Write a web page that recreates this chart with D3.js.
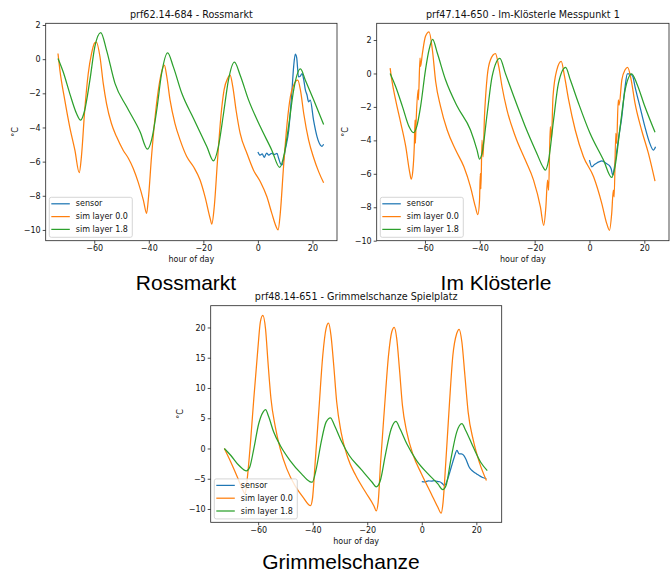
<!DOCTYPE html>
<html><head><meta charset="utf-8">
<script src="https://cdn.jsdelivr.net/npm/d3@7"></script>
<style>html,body{margin:0;padding:0;background:#fff;}svg{display:block;}</style>
</head><body>
<svg id="fig" width="672" height="573"></svg>
<script>
// ---------------- DATA ----------------
const seriesNames = ["sensor", "sim layer 0.0", "sim layer 1.8"];
const xTicks = [-60, -40, -20, 0, 20];
const xTickLabels = ["\u221260", "\u221240", "\u221220", "0", "20"];
const yTicksA = [-10, -8, -6, -4, -2, 0, 2];
const yTickLabelsA = ["\u221210", "\u22128", "\u22126", "\u22124", "\u22122", "0", "2"];
const yTicksC = [-10, -5, 0, 5, 10, 15, 20];
const yTickLabelsC = ["\u221210", "\u22125", "0", "5", "10", "15", "20"];

// Rossmarkt
const rossSensor = [[0,-5.43],[0.8,-5.62],[1.6,-5.55],[2.3,-5.75],[3.2,-5.5],[4.0,-5.62],[5.0,-5.52],[6.0,-5.58],[7.0,-5.52],[7.6,-5.8],[8.2,-6.1],[8.8,-6.2],[9.4,-5.9],[10.0,-5.33],[11.3,-4.16],[12.5,-1.8],[13.1,-0.45],[13.7,0.29],[14.2,0.1],[14.9,-1.04],[15.5,-1.0],[16.2,-0.84],[16.8,-1.2],[17.4,-1.8],[18.0,-2.1],[18.6,-2.5],[19.2,-2.4],[20.4,-3.57],[21.7,-4.55],[22.9,-5.03],[23.5,-5.1],[24.1,-4.98]];
const rossLayer00 = [[-73.3,0.33],[-72.6,-0.64],[-70.8,-2.4],[-69.0,-3.96],[-67.1,-5.33],[-65.5,-6.65],[-64.7,-5.7],[-63.5,-3.0],[-62.2,-0.84],[-61.0,0.33],[-59.8,0.96],[-59.2,1.0],[-57.9,0.14],[-56.7,-1.42],[-55.5,-2.6],[-53.7,-3.77],[-51.8,-4.55],[-49.4,-5.33],[-47.5,-5.8],[-45.7,-6.4],[-43.9,-7.2],[-42.0,-8.25],[-40.8,-9.03],[-40.2,-8.25],[-39.0,-5.7],[-37.7,-3.4],[-36.5,-1.8],[-35.3,-0.74],[-34.3,-0.35],[-33.4,-1.03],[-32.2,-2.4],[-30.4,-3.77],[-28.5,-4.74],[-26.1,-5.7],[-23.6,-6.3],[-21.2,-7.08],[-19.4,-8.05],[-17.5,-9.33],[-16.9,-9.66],[-16.0,-8.64],[-14.8,-5.9],[-13.6,-3.4],[-12.4,-1.8],[-11.1,-1.13],[-10.2,-0.94],[-9.2,-1.62],[-8.0,-2.99],[-6.5,-4.35],[-4.0,-5.52],[-1.6,-6.5],[0.9,-7.18],[3.3,-8.06],[5.1,-9.03],[6.7,-9.81],[7.4,-10.0],[8.2,-9.03],[9.4,-6.3],[10.7,-3.77],[11.9,-2.2],[13.1,-1.52],[14.6,-1.23],[15.6,-1.81],[16.8,-3.18],[18.6,-4.74],[20.5,-5.8],[22.3,-6.6],[24.1,-7.24]];
const rossLayer18 = [[-73.3,0.04],[-71.4,-0.74],[-69.0,-2.0],[-66.5,-3.18],[-65.0,-3.57],[-63.5,-2.99],[-61.6,-1.23],[-59.8,0.72],[-57.6,1.56],[-55.5,0.53],[-52.4,-1.42],[-48.1,-2.79],[-43.2,-4.25],[-40.5,-5.27],[-39.0,-4.74],[-37.1,-2.99],[-35.3,-0.84],[-33.1,0.37],[-31.0,-0.45],[-27.9,-2.0],[-23.6,-3.47],[-18.7,-5.13],[-16.3,-5.95],[-14.5,-5.13],[-12.6,-3.18],[-10.8,-1.23],[-8.6,-0.18],[-6.5,-0.94],[-3.4,-2.4],[0.9,-3.96],[5.1,-5.33],[8.0,-6.34],[9.7,-5.52],[11.4,-3.77],[13.1,-1.81],[15.6,-0.57],[17.4,-1.23],[20.5,-2.4],[24.1,-3.82]];

// Im Klösterle
const klosSensor = [[0,-5.18],[0.85,-5.58],[1.8,-5.45],[2.7,-5.35],[3.6,-5.28],[4.5,-5.22],[5.4,-5.3],[6.3,-5.4],[7.2,-5.5],[7.9,-5.7],[8.5,-6.08],[9.3,-5.38],[10.5,-3.98],[11.8,-2.58],[13.0,-0.78],[13.8,-0.02],[14.8,-0.02],[15.8,-0.18],[16.6,-0.78],[18.4,-1.98],[20.2,-3.18],[22.0,-4.18],[23.3,-4.58],[24.1,-4.38]];
const klosLayer00 = [[-72.7,0.32],[-72.2,-0.28],[-70.7,-1.58],[-68.8,-2.98],[-67.0,-4.38],[-65.6,-5.88],[-65.0,-6.32],[-64.4,-5.78],[-63.9,-4.38],[-63.6,-2.78],[-63.5,-4.18],[-63.2,-2.78],[-62.5,-0.98],[-62.4,-1.58],[-61.8,0.92],[-61.6,0.42],[-61.0,1.12],[-59.8,2.22],[-58.5,2.48],[-57.3,1.42],[-56.1,-0.48],[-54.3,-1.98],[-51.9,-3.38],[-48.8,-4.58],[-45.8,-5.58],[-43.4,-6.78],[-41.6,-7.98],[-40.7,-8.44],[-40.1,-7.58],[-39.8,-5.98],[-39.6,-6.9],[-39.2,-3.98],[-38.8,-4.98],[-38.3,-2.58],[-37.8,-1.18],[-37.3,-0.18],[-36.1,0.82],[-34.3,1.18],[-33.1,0.42],[-31.9,-0.78],[-30.1,-2.18],[-27.0,-3.78],[-23.4,-5.18],[-20.4,-6.38],[-17.9,-7.98],[-16.7,-9.08],[-15.9,-7.98],[-15.3,-6.38],[-14.9,-6.98],[-14.3,-3.18],[-13.9,-3.98],[-13.3,-1.38],[-11.9,0.22],[-10.3,0.72],[-9.1,-0.18],[-7.6,-1.58],[-5.2,-3.38],[-2.2,-4.98],[1.5,-6.18],[4.5,-7.78],[6.3,-8.98],[7.3,-9.38],[8.1,-8.38],[8.7,-6.98],[9.0,-7.38],[9.6,-3.58],[9.9,-4.18],[10.5,-1.58],[10.8,-1.9],[11.8,-0.38],[13.0,0.22],[13.9,0.36],[15.2,-0.38],[16.6,-1.78],[19.0,-3.38],[21.5,-4.78],[23.9,-6.44]];
const klosLayer18 = [[-72.7,0],[-70.7,-0.78],[-68.2,-1.98],[-65.8,-3.18],[-64.2,-3.54],[-63.0,-3.18],[-61.6,-1.98],[-59.8,0.22],[-58.5,1.42],[-57.2,2.04],[-55.5,1.22],[-52.5,-0.38],[-48.2,-1.98],[-43.4,-3.38],[-41.0,-4.58],[-40.1,-5.12],[-39.2,-4.78],[-37.3,-2.38],[-35.5,-0.18],[-32.7,0.9],[-30.7,0.02],[-27.6,-1.38],[-23.4,-3.18],[-19.2,-4.78],[-17.0,-5.58],[-16.1,-5.78],[-14.9,-5.18],[-13.1,-2.78],[-11.3,-0.58],[-8.7,0.36],[-7.0,-0.38],[-4.0,-1.78],[0.2,-3.58],[5.1,-5.18],[8.1,-6.22],[9.3,-5.58],[11.2,-3.18],[13.0,-0.98],[15.4,-0.02],[17.2,-0.58],[20.2,-1.98],[23.9,-3.52]];

// Grimmelschanze
const grimSensor = [[0,-5.47],[1.2,-5.5],[2.4,-5.35],[3.5,-5.4],[4.6,-5.3],[5.6,-5.45],[6.6,-5.5],[7.5,-5.8],[8.3,-6.13],[9.5,-5.03],[10.8,-3.1],[11.9,-1.44],[12.9,-0.33],[13.7,-0.88],[14.5,-0.9],[15.3,-1.1],[16.1,-1.7],[17.4,-3.1],[18.3,-3.6],[19.2,-3.93],[20.1,-4.2],[21.0,-4.48],[22.3,-4.8],[23.7,-5.0]];
const grimLayer00 = [[-72.4,0],[-70.0,-2.27],[-67.6,-4.75],[-65.8,-6.69],[-64.8,-7.51],[-64.0,-5.0],[-62.8,1.05],[-61.6,8.23],[-60.1,16.5],[-59.2,20.9],[-58.3,22.0],[-57.3,19.8],[-56.4,14.3],[-55.3,8.23],[-53.7,3.54],[-51.9,-0.06],[-49.5,-3.37],[-46.5,-6.13],[-43.5,-8.07],[-40.8,-9.45],[-40.1,-8.34],[-39.0,-1.71],[-37.7,6.57],[-36.3,15.4],[-35.1,19.8],[-34.2,20.7],[-33.3,18.7],[-32.3,13.8],[-31.2,7.68],[-29.6,2.71],[-27.2,-1.44],[-24.2,-4.48],[-20.6,-7.24],[-17.6,-9.45],[-16.7,-10.3],[-16.0,-8.9],[-15.1,-2.27],[-13.7,6.57],[-12.2,15.4],[-11.0,19.3],[-10.1,20.0],[-9.2,18.2],[-8.2,13.2],[-7.1,7.13],[-5.5,2.71],[-3.1,-1.16],[-0.1,-4.2],[3.5,-7.51],[5.9,-9.72],[7.1,-10.7],[7.8,-8.9],[8.8,-2.27],[10.1,7.13],[11.4,15.4],[12.8,19.0],[13.7,19.7],[14.7,17.6],[15.8,12.1],[17.0,6.02],[18.9,1.33],[21.3,-2.54],[23.7,-5.3]];
const grimLayer18 = [[-72.4,0],[-70.0,-1.16],[-67.0,-2.82],[-64.3,-3.7],[-63.1,-3.09],[-61.6,-0.06],[-59.8,4.09],[-58.2,6.02],[-57.3,6.41],[-56.1,5.19],[-54.3,2.71],[-51.9,0.5],[-48.3,-1.99],[-44.1,-4.2],[-41.1,-5.47],[-40.2,-5.58],[-38.7,-3.37],[-36.9,1.05],[-35.1,4.36],[-33.5,5.08],[-32.0,3.81],[-29.6,1.33],[-26.6,-1.16],[-22.4,-3.37],[-18.2,-5.58],[-16.7,-6.35],[-15.2,-5.3],[-13.4,-1.16],[-11.2,3.26],[-9.5,4.48],[-8.0,3.26],[-5.5,0.77],[-1.9,-1.99],[2.3,-4.2],[5.9,-5.86],[7.7,-6.8],[8.9,-6.13],[10.7,-1.71],[12.8,2.71],[14.7,4.09],[16.1,2.98],[18.6,0.5],[21.6,-2.27],[24.0,-3.65]];

// ---------------- DRAWING ----------------
const colors = ["#1f77b4", "#ff7f0e", "#2ca02c"];
const svg = d3.select("#fig");
const tickFont = "DejaVu Sans, sans-serif";

const panels = [
  {title: "prf62.14-684 - Rossmarkt", box: [45.7, 23.3, 337, 240.7], xDom: [-77.8, 29.0], yDom: [-10.63, 2.1],
   yTicks: yTicksA, yLabels: yTickLabelsA, series: [rossSensor, rossLayer00, rossLayer18], ylabX: 15},
  {title: "prf47.14-650 - Im-Kl\u00f6sterle Messpunkt 1", box: [376.7, 23.3, 669, 240.7], xDom: [-77.6, 29.0], yDom: [-10, 3],
   yTicks: yTicksA, yLabels: yTickLabelsA, series: [klosSensor, klosLayer00, klosLayer18], ylabX: 345.5},
  {title: "prf48.14-651 - Grimmelschanze Spielplatz", box: [210.7, 305.7, 501.7, 522.3], xDom: [-77.4, 29.3], yDom: [-12.2, 23.6],
   yTicks: yTicksC, yLabels: yTickLabelsC, series: [grimSensor, grimLayer00, grimLayer18], ylabX: 180.5}
];

panels.forEach((p, pi) => {
  const [L, T, R, B] = p.box;
  const x = d3.scaleLinear().domain(p.xDom).range([L, R]);
  const y = d3.scaleLinear().domain(p.yDom).range([B, T]);
  const g = svg.append("g");
  const clipId = "clip" + pi;
  svg.append("clipPath").attr("id", clipId).append("rect").attr("x", L).attr("y", T).attr("width", R - L).attr("height", B - T);

  const line = d3.line().x(d => x(d[0])).y(d => y(d[1])).curve(d3.curveMonotoneX);
  [0, 1, 2].forEach(i => {
    g.append("path").datum(p.series[i]).attr("d", line)
      .attr("fill", "none").attr("stroke", colors[i]).attr("stroke-width", 1.25)
      .attr("stroke-linejoin", "round").attr("stroke-linecap", "butt")
      .attr("clip-path", `url(#${clipId})`);
  });

  const xAxis = d3.axisBottom(x).tickValues(xTicks).tickSize(3).tickPadding(2)
    .tickFormat((d, i) => xTickLabels[i]);
  const yAxis = d3.axisLeft(y).tickValues(p.yTicks).tickSize(3).tickPadding(2)
    .tickFormat((d, i) => p.yLabels[i]);
  const gx = g.append("g").attr("transform", `translate(0,${B})`).call(xAxis);
  const gy = g.append("g").attr("transform", `translate(${L},0)`).call(yAxis);
  [gx, gy].forEach(a => {
    a.select(".domain").remove();
    a.selectAll("line").attr("stroke", "#222").attr("stroke-width", 0.8);
    a.selectAll("text").attr("font-family", tickFont).attr("font-size", 8).attr("fill", "#111");
  });

  g.append("rect").attr("x", L).attr("y", T).attr("width", R - L).attr("height", B - T)
    .attr("fill", "none").attr("stroke", "#222").attr("stroke-width", 0.8);

  g.append("text").attr("x", (L + R) / 2).attr("y", T - 5.8).attr("text-anchor", "middle")
    .attr("font-family", tickFont).attr("font-size", 9.6).attr("fill", "#111").text(p.title);
  g.append("text").attr("x", (L + R) / 2).attr("y", B + 21.5).attr("text-anchor", "middle")
    .attr("font-family", tickFont).attr("font-size", 8).attr("fill", "#111").text("hour of day");
  g.append("text").attr("transform", `translate(${p.ylabX},${(T + B) / 2}) rotate(-90)`)
    .attr("text-anchor", "middle").attr("dominant-baseline", "middle")
    .attr("font-family", tickFont).attr("font-size", 8).attr("fill", "#111").text("\u00b0C");

  const lx = L + 3.6, ly = B - 43.4;
  const lg = g.append("g");
  lg.append("rect").attr("x", lx).attr("y", ly).attr("width", 83).attr("height", 40).attr("rx", 2)
    .attr("fill", "#fff").attr("fill-opacity", 0.8).attr("stroke", "#ccc").attr("stroke-width", 0.8);
  seriesNames.forEach((name, i) => {
    const ry = ly + 6.5 + i * 12.8;
    lg.append("line").attr("x1", lx + 2).attr("x2", lx + 20.5).attr("y1", ry).attr("y2", ry)
      .attr("stroke", colors[i]).attr("stroke-width", 1.25);
    lg.append("text").attr("x", lx + 26.5).attr("y", ry).attr("dominant-baseline", "central")
      .attr("font-family", tickFont).attr("font-size", 8).attr("fill", "#111").text(name);
  });
});

const captions = [["Rossmarkt", 186, 289.5], ["Im Kl\u00f6sterle", 496, 289.5], ["Grimmelschanze", 341, 569]];
captions.forEach(c => {
  svg.append("text").attr("x", c[1]).attr("y", c[2]).attr("text-anchor", "middle")
    .attr("font-family", "Liberation Sans, Arial, sans-serif").attr("font-size", 21).attr("fill", "#000").text(c[0]);
});
</script>
</body></html>
